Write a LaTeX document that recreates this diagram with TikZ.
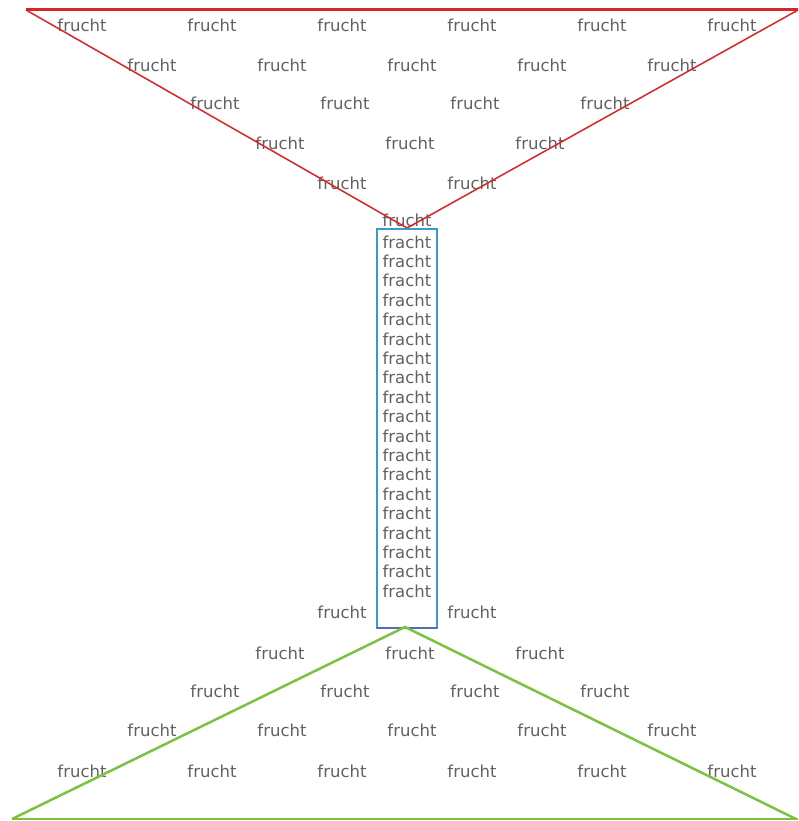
\documentclass[tikz,border=0pt]{standalone}
\usepackage{fontspec}
\setmainfont{DejaVu Sans}
\definecolor{funnelred}{HTML}{D9252A}
\definecolor{tubeblue}{HTML}{3A9AC8}
\definecolor{tubeedge}{HTML}{4F6DB8}
\definecolor{funnelgreen}{HTML}{7CC242}
\begin{document}
\begin{tikzpicture}[x=1pt, y=-1pt,
    every node/.style={inner sep=0pt, text=black!62, font=\fontsize{16.5}{17}\selectfont},
    redline/.style={draw=funnelred, line width=1.5pt},
    greenline/.style={draw=funnelgreen, line width=2.5pt}]
    \useasboundingbox (0,0) rectangle (798,821);
    % words above
    \foreach \r/\y/\x in {1/25/82, 2/65/152, 3/103/215, 4/143/280, 5/183/342, 6/220/407} {
        \pgfmathtruncatemacro\n{6-\r}
        \foreach \k in {0,...,\n}
            \node (t\r-\k) at ({\x+130*\k},\y) {frucht};
    }
    % words below
    \foreach \r/\y/\x in {1/612/342, 2/653/280, 3/691/215, 4/730/152, 5/771/82} {
        \pgfmathtruncatemacro\n{\r}
        \foreach \k in {0,...,\n}
            \node (b\r-\k) at ({\x+130*\k},\y) {frucht};
    }
    % the tube
    \foreach \i in {0,...,18}
        \node (c\i) at (407,{242+19.4*\i}) {fracht};
    \coordinate (TL) at (26,10);
    \coordinate (TR) at (798,10);
    \coordinate (TA) at (407,228);
    \coordinate (BL) at (12,819);
    \coordinate (BR) at (798,819);
    \coordinate (BA) at (405,627);
    \draw[redline, line width=3pt] (TL) -- (TR);
    \draw[redline] (TL) -- (TA) -- (TR);
    \draw[tubeblue, line width=2.5pt] (377,229) rectangle (437,628);
    \draw[tubeedge, line width=2.5pt] (377,628) -- (437,628);
    \draw[greenline] (BL) -- (BA) -- (796,819);
    \draw[greenline] (BL) -- (BR);
\end{tikzpicture}
\end{document}
